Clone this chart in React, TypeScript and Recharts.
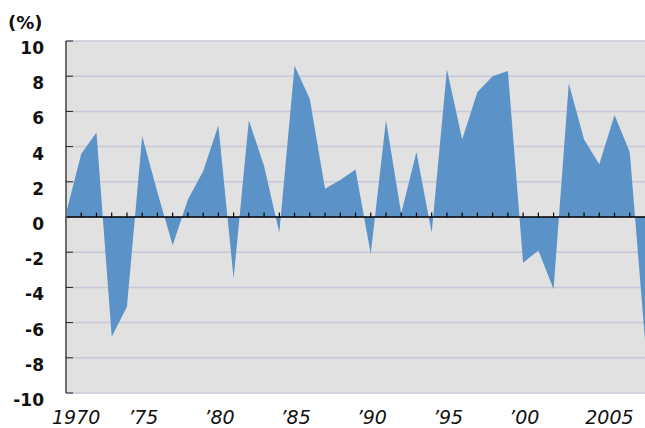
import { AreaChart, Area, XAxis, YAxis, CartesianGrid, ReferenceLine } from "recharts";

// one point per year, 1970 - 2008
const years = [
  1970, 1971, 1972, 1973, 1974, 1975, 1976, 1977, 1978, 1979,
  1980, 1981, 1982, 1983, 1984, 1985, 1986, 1987, 1988, 1989,
  1990, 1991, 1992, 1993, 1994, 1995, 1996, 1997, 1998, 1999,
  2000, 2001, 2002, 2003, 2004, 2005, 2006, 2007, 2008,
];

// annual change (%)
const changes = [
  0.2, 3.6, 4.8, -6.8, -5.1, 4.6, 1.4, -1.6, 1.0, 2.6,
  5.2, -3.5, 5.5, 2.9, -0.9, 8.6, 6.7, 1.6, 2.1, 2.7,
  -2.1, 5.5, 0.2, 3.7, -0.9, 8.4, 4.4, 7.1, 8.0, 8.3,
  -2.6, -1.9, -4.1, 7.6, 4.4, 3.0, 5.8, 3.7, -7.0,
];

const yTicks = [-10, -8, -6, -4, -2, 0, 2, 4, 6, 8, 10];
const labelYears = [1970, 1975, 1980, 1985, 1990, 1995, 2000, 2005];
const labelTexts = ["1970", "\u201975", "\u201980", "\u201985", "\u201990", "\u201995", "\u201900", "2005"];

const data = years.map((year, i) => ({ year, value: changes[i] }));
const minorYears = years.slice(1, -1);

const YTick = ({ x, y, payload }: any) => (
  <text
    x={x}
    y={y + 13}
    textAnchor="end"
    fontFamily="DejaVu Sans"
    fontWeight="bold"
    fontSize={17}
    fill="#111"
  >
    {payload.value}
  </text>
);

const XTick = ({ x, y, payload }: any) => (
  <text
    x={x - 14}
    y={y + 31}
    textAnchor="start"
    fontFamily="DejaVu Sans"
    fontStyle="italic"
    fontSize={19}
    fill="#111"
  >
    {labelTexts[labelYears.indexOf(payload.value)]}
  </text>
);

export default function App() {
  return (
    <div style={{ position: "absolute", left: 0, top: 0, width: 645, height: 428 }}>
      <div
        style={{
          position: "absolute",
          left: 8,
          top: 12,
          fontFamily: "DejaVu Sans",
          fontWeight: "bold",
          fontSize: 18,
          lineHeight: "22px",
          color: "#111",
        }}
      >
        (%)
      </div>
      <AreaChart width={645} height={428} data={data} margin={{ top: 41, right: 0, bottom: 0, left: 0 }}>
        <CartesianGrid fill="#e1e1e1" stroke="#c9c8d9" strokeWidth={1.5} vertical={false} />
        <XAxis
          dataKey="year"
          type="number"
          domain={[1970, 2008]}
          ticks={labelYears}
          interval={0}
          axisLine={false}
          tickLine={false}
          tickSize={0}
          tickMargin={0}
          height={35}
          tick={<XTick />}
        />
        <YAxis
          domain={[-10, 10]}
          ticks={yTicks}
          interval={0}
          width={66}
          axisLine={{ stroke: "#6e6e6e", strokeWidth: 2 }}
          tickLine={{ stroke: "#222" }}
          tickSize={-7}
          tickMargin={29}
          tick={<YTick />}
        />
        <Area
          type="linear"
          dataKey="value"
          stroke="none"
          fill="#5b93c9"
          fillOpacity={1}
          isAnimationActive={false}
        />
        <ReferenceLine y={0} stroke="#000" strokeWidth={1.5} />
        {minorYears.map((yr) => (
          <ReferenceLine
            key={yr}
            segment={[{ x: yr, y: 0 }, { x: yr, y: 0.25 }]}
            stroke="#000"
            strokeWidth={1.2}
          />
        ))}
      </AreaChart>
    </div>
  );
}
